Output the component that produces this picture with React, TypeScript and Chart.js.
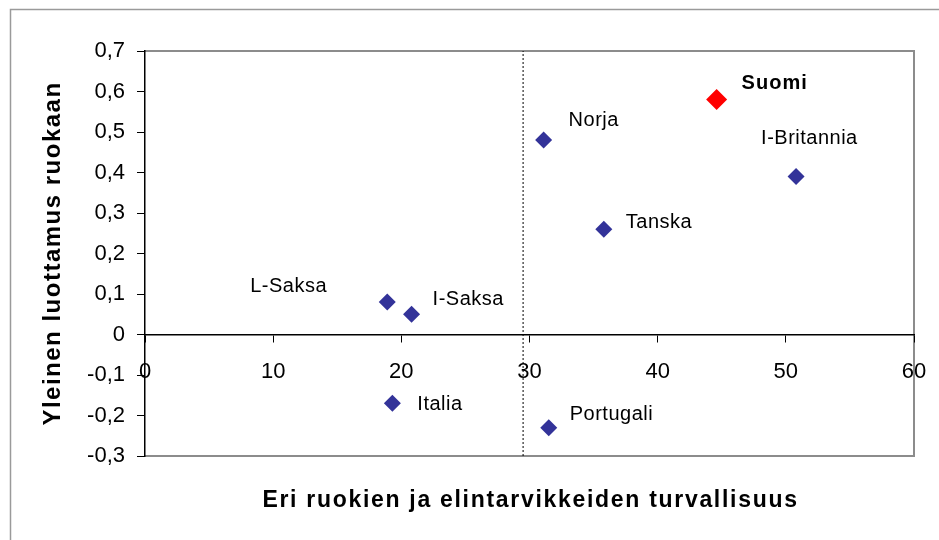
import React, { useEffect, useRef } from 'react';
import { Chart, registerables } from 'chart.js';

Chart.register(...registerables);

const countries = ['Suomi', 'Norja', 'I-Britannia', 'Tanska', 'L-Saksa', 'I-Saksa', 'Italia', 'Portugali'];
const safety = [44.6, 31.1, 50.8, 35.8, 18.9, 20.8, 19.3, 31.5];
const trust = [0.58, 0.48, 0.39, 0.26, 0.08, 0.05, -0.17, -0.23];
const highlighted = 'Suomi';
const xTicks = [0, 10, 20, 30, 40, 50, 60];
const yTicks = [-0.3, -0.2, -0.1, 0, 0.1, 0.2, 0.3, 0.4, 0.5, 0.6, 0.7];
const dividerX = 29.5;
const xTitle = 'Eri ruokien ja elintarvikkeiden turvallisuus';
const yTitle = 'Yleinen luottamus ruokaan';

// label placement relative to each point (pixels): [dx to text start, dy to text centre]
const labelOffsets: Record<string, [number, number]> = {
  'Suomi': [25, -16],
  'Norja': [25, -20],
  'I-Britannia': [-35, -38],
  'Tanska': [22, -7],
  'L-Saksa': [-137, -16],
  'I-Saksa': [21, -15],
  'Italia': [25, 1],
  'Portugali': [21, -13],
};

const FONT = '"Liberation Sans", Arial, sans-serif';
const BLUE = '#333399';
const RED = '#ff0000';

const fmt = (v: number) => (Math.abs(v) < 1e-9 ? '0' : v.toFixed(1).replace('.', ','));

const decorPlugin = {
  id: 'decor',
  beforeDraw(chart: any) {
    const { ctx, width, height } = chart;
    ctx.save();
    ctx.fillStyle = '#ffffff';
    ctx.fillRect(0, 0, width, height);
    ctx.strokeStyle = '#9a9a9a';
    ctx.lineWidth = 1.5;
    ctx.beginPath();
    ctx.moveTo(10.5, height);
    ctx.lineTo(10.5, 9.5);
    ctx.lineTo(width, 9.5);
    ctx.stroke();
    const a = chart.chartArea;
    ctx.strokeStyle = '#8c8c8c';
    ctx.lineWidth = 2;
    ctx.beginPath();
    ctx.moveTo(a.left, a.top);
    ctx.lineTo(a.right, a.top);
    ctx.lineTo(a.right, a.bottom);
    ctx.lineTo(a.left, a.bottom);
    ctx.stroke();
    ctx.restore();
  },
  afterDraw(chart: any) {
    const { ctx } = chart;
    const a = chart.chartArea;
    const xs = chart.scales.x;
    const ys = chart.scales.y;
    ctx.save();
    ctx.fillStyle = '#000000';
    ctx.textBaseline = 'middle';
    ctx.textAlign = 'left';
    countries.forEach((c, i) => {
      const px = xs.getPixelForValue(safety[i]);
      const py = ys.getPixelForValue(trust[i]);
      const [dx, dy] = labelOffsets[c];
      const bold = c === highlighted;
      ctx.font = `${bold ? 'bold ' : ''}20px ${FONT}`;
      (ctx as any).letterSpacing = bold ? '1px' : '0.5px';
      ctx.fillText(c, px + dx, py + dy);
    });
    // axis titles
    ctx.textAlign = 'center';
    ctx.font = `bold 23px ${FONT}`;
    (ctx as any).letterSpacing = '1.7px';
    ctx.fillText(xTitle, (a.left + a.right) / 2 + 1, 501);
    ctx.save();
    ctx.translate(53, (a.top + a.bottom) / 2);
    ctx.rotate(-Math.PI / 2);
    ctx.font = `bold 24px ${FONT}`;
    (ctx as any).letterSpacing = '1.5px';
    ctx.fillText(yTitle, 0, 0);
    ctx.restore();
    ctx.restore();
  },
};

export default function App() {
  const ref = useRef<HTMLCanvasElement | null>(null);
  useEffect(() => {
    if (!ref.current) return;
    const others = countries.map((c, i) => ({ c, i })).filter((o) => o.c !== highlighted);
    const hi = countries.indexOf(highlighted);
    const chart = new Chart(ref.current, {
      type: 'scatter',
      data: {
        datasets: [
          {
            label: highlighted,
            data: [{ x: safety[hi], y: trust[hi] }],
            pointStyle: 'rectRot',
            pointRadius: 10.5,
            backgroundColor: RED,
            borderColor: RED,
            borderWidth: 0,
            order: 0,
          },
          {
            label: 'maat',
            data: others.map((o) => ({ x: safety[o.i], y: trust[o.i] })),
            pointStyle: 'rectRot',
            pointRadius: 8.5,
            backgroundColor: BLUE,
            borderColor: BLUE,
            borderWidth: 0,
            order: 1,
          },
          {
            label: 'raja',
            data: [
              { x: dividerX, y: yTicks[0] },
              { x: dividerX, y: yTicks[yTicks.length - 1] },
            ],
            showLine: true,
            pointRadius: 0,
            borderColor: '#000000',
            borderWidth: 1,
            borderDash: [2, 2],
            order: 2,
          } as any,
        ],
      },
      options: {
        animation: false,
        responsive: true,
        maintainAspectRatio: false,
        layout: { padding: { left: 0, right: 25, top: 51, bottom: 84 } },
        plugins: { legend: { display: false }, tooltip: { enabled: false } },
        events: [],
        scales: {
          x: {
            type: 'linear',
            position: { y: 0 } as any,
            min: xTicks[0],
            max: xTicks[xTicks.length - 1],
            afterBuildTicks: (s: any) => {
              s.ticks = xTicks.map((v) => ({ value: v }));
            },
            afterFit: (s: any) => {
              s.paddingLeft = 0;
              s.paddingRight = 0;
            },
            grid: { drawOnChartArea: false, drawTicks: true, tickLength: 7, color: '#000000', lineWidth: 1 },
            border: { display: true, color: '#000000', width: 1.5 },
            ticks: {
              autoSkip: false,
              maxRotation: 0,
              padding: 17,
              color: '#000000',
              font: { family: FONT, size: 22 },
              callback: (v: any) => String(v),
            },
          },
          y: {
            type: 'linear',
            position: 'left',
            min: yTicks[0],
            max: yTicks[yTicks.length - 1],
            afterBuildTicks: (s: any) => {
              s.ticks = yTicks.map((v) => ({ value: v }));
            },
            afterFit: (s: any) => {
              s.width = 145;
            },
            grid: { drawOnChartArea: false, drawTicks: true, tickLength: 8, color: '#000000', lineWidth: 1 },
            border: { display: true, color: '#000000', width: 1.5 },
            ticks: {
              autoSkip: false,
              padding: 12,
              color: '#000000',
              font: { family: FONT, size: 22 },
              callback: (v: any) => fmt(Number(v)),
            },
          },
        },
      },
      plugins: [decorPlugin],
    });
    return () => chart.destroy();
  }, []);
  return (
    <div style={{ position: 'absolute', left: 0, top: 0, width: 939, height: 540 }}>
      <canvas ref={ref} />
    </div>
  );
}
